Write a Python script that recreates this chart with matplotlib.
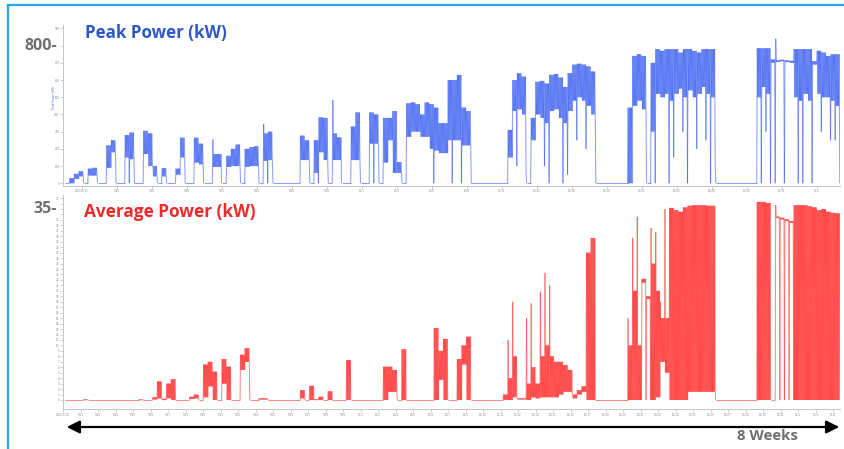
import numpy as np
import matplotlib
matplotlib.use("Agg")
import matplotlib.pyplot as plt
from matplotlib.patches import FancyArrowPatch
from matplotlib.lines import Line2D
from matplotlib.collections import LineCollection

# ---------------- data (8-hour bins over 8 weeks) -------------
BIN_DAYS = 1.0 / 3.0

# Peak power (kW): upper edge / lower edge of the dense trace inside each bin
PEAK_HI = [0, 30, 55, 70, 0, 85, 90, 0, 0, 220, 250, 0,
           0, 280, 295, 0, 0, 305, 290, 100, 0, 88, 0, 0,
           85, 265, 0, 0, 265, 230, 0, 0, 170, 170, 0, 160,
           200, 225, 0, 200, 210, 215, 0, 290, 300, 0, 0, 0,
           0, 0, 0, 277, 250, 0, 250, 383, 380, 0, 290, 267,
           0, 0, 330, 412, 0, 0, 412, 400, 0, 380, 380, 420,
           123, 0, 465, 470, 460, 400, 470, 460, 440, 350, 350, 600,
           600, 630, 440, 420, 0, 0, 0, 0, 0, 0, 0, 0,
           310, 600, 640, 620, 0, 380, 590, 595, 580, 630, 635, 615,
           560, 640, 690, 695, 690, 680, 650, 0, 0, 0, 0, 0,
           0, 0, 440, 740, 750, 740, 0, 700, 780, 770, 780, 780,
           780, 760, 780, 780, 770, 760, 780, 780, 780, 0, 0, 0,
           0, 0, 0, 0, 0, 0, 785, 785, 785, 720, 715, 718,
           715, 712, 780, 780, 780, 780, 710, 770, 760, 740, 750, 750]
PEAK_LO = [0, 0, 25, 40, 0, 45, 45, 0, 0, 90, 180, 0,
           0, 150, 140, 0, 0, 170, 100, 40, 0, 40, 0, 0,
           50, 150, 0, 0, 120, 110, 0, 0, 95, 95, 0, 95,
           100, 100, 0, 95, 100, 100, 0, 130, 135, 0, 0, 0,
           0, 0, 0, 135, 135, 0, 60, 180, 135, 0, 135, 135,
           0, 0, 135, 135, 0, 0, 230, 230, 0, 120, 250, 60,
           60, 0, 270, 300, 300, 270, 270, 200, 190, 175, 175, 250,
           250, 250, 220, 220, 0, 0, 0, 0, 0, 0, 0, 0,
           150, 420, 430, 400, 0, 250, 400, 380, 350, 420, 430, 380,
           350, 420, 480, 500, 480, 450, 400, 0, 0, 0, 0, 0,
           0, 0, 0, 450, 480, 430, 0, 300, 520, 500, 520, 480,
           520, 550, 500, 540, 500, 520, 560, 520, 500, 0, 0, 0,
           0, 0, 0, 0, 0, 0, 500, 560, 520, 700, 705, 710,
           705, 700, 500, 480, 520, 480, 690, 520, 500, 500, 480, 450]
# (bin, value) : single deep strokes of the peak trace
PEAK_DIPS = [(13, 0), (33, 0), (43, 0), (54, 0), (59, 0), (66, 0), (79, 0), (83, 0),
             (85, 0), (97, 100), (99, 60), (103, 100), (104, 0), (107, 0), (108, 50),
             (110, 250), (112, 200), (127, 0), (130, 0), (131, 150), (133, 300),
             (134, 0), (136, 200), (138, 250), (139, 0), (140, 100), (150, 0),
             (151, 300), (152, 0), (153, 0), (155, 0), (158, 0), (159, 0), (161, 0),
             (163, 300), (165, 250), (166, 250), (167, 0)]
# (bin, value) : single tall strokes of the peak trace
PEAK_SPIKES = [(32, 255), (43, 345), (58, 483), (154, 840)]

# Average power (kW)
AVG_HI = [0, 0, 0, 0, 0.1, 0, 0, 0, 0, 0, 0, 0,
          0, 0, 0, 0, 0.1, 0, 0, 0.5, 3.4, 0.2, 3.0, 3.8,
          0, 0, 0, 0.6, 1.0, 0, 6.5, 7.0, 5.2, 0, 7.5, 6.1,
          0, 0, 8.3, 9.5, 0, 0, 0.3, 0.3, 0, 0, 0, 0,
          0, 0, 0, 1.8, 0, 2.6, 0.1, 0.6, 0, 1.6, 0, 0,
          0, 7.3, 0, 0, 0, 0, 0, 0, 0, 6.1, 6.1, 5.5,
          0, 9.3, 0, 0, 0, 0, 0, 0, 13.2, 9.0, 11.2, 0,
          0, 7.5, 10.0, 11.6, 0, 0, 0, 0, 0, 0, 0, 1.0,
          4.0, 8.0, 0.3, 0.3, 3.0, 6.0, 3.0, 8.0, 10.0, 8.0, 7.0, 7.0,
          6.4, 5.5, 1.0, 1.8, 2.5, 27.0, 29.7, 0, 0, 0, 0, 0,
          0, 0, 10.0, 20.0, 10.0, 22.2, 19.0, 25.0, 20.0, 15.0, 15.0, 35.2,
          34.8, 34.5, 35.3, 35.6, 35.7, 35.7, 35.7, 35.6, 35.6, 0, 0, 0,
          0, 0, 0, 0, 0, 0, 36.3, 36.3, 36.1, 0, 33.6, 33.4,
          33.1, 32.8, 35.7, 35.7, 35.7, 35.5, 35.3, 34.8, 35.0, 34.5, 34.3, 34.2]
AVG_LO = [0, 0, 0, 0, 0, 0, 0, 0, 0, 0, 0, 0,
          0, 0, 0, 0, 0, 0, 0, 0.1, 0.3, 0, 0.3, 0,
          0, 0, 0, 0.2, 0.3, 0, 0.5, 2.5, 0, 0, 3.0, 0,
          0, 0, 5.5, 7.0, 0, 0, 0.1, 0.1, 0, 0, 0, 0,
          0, 0, 0, 0.3, 0, 0, 0, 0, 0, 0, 0, 0,
          0, 0, 0, 0, 0, 0, 0, 0, 0, 0, 1.5, 1.5,
          0, 0, 0, 0, 0, 0, 0, 0, 0, 3.7, 0, 0,
          0, 0, 6.5, 0, 0, 0, 0, 0, 0, 0, 0, 0,
          0, 0.5, 0.1, 0.1, 0, 0.5, 0.3, 0.5, 0.5, 0.5, 0.5, 1.0,
          1.5, 1.5, 0.3, 1.0, 1.5, 0, 0, 0, 0, 0, 0, 0,
          0, 0, 0, 0, 0, 21.5, 18.5, 0, 0.5, 7.0, 5.0, 0,
          0, 0, 0, 1.5, 1.5, 1.5, 1.5, 1.5, 1.5, 0, 0, 0,
          0, 0, 0, 0, 0, 0, 0, 0, 0, 0, 33.4, 33.1,
          32.8, 32.5, 0, 0, 0, 0, 0, 0, 0, 0, 0, 0]
AVG_DIPS = [(125, 0), (126, 0), (154, 0), (155, 0), (156, 0), (157, 0)]
AVG_SPIKES = [(96, 11.0), (97, 18.0), (100, 15.0), (101, 17.7), (103, 19.8),
              (104, 23.3), (105, 21.0), (122, 15.0), (123, 29.7), (124, 33.6),
              (127, 31.5), (128, 30.8), (129, 18.0), (130, 35.0), (154, 35.7)]

PEAK_YTICKS = [0, 100, 200, 300, 400, 500, 600, 700, 800, 900]
AVG_YTICKS = list(range(0, 38))
TOP_XLABELS = ["2021/9/11", "9/13", "9/16", "9/18", "9/21", "9/23", "9/26", "9/28",
               "10/1", "10/3", "10/6", "10/8", "10/11", "10/13", "10/16", "10/18",
               "10/21", "10/23", "10/26", "10/28", "10/31", "11/2"]
BOTTOM_XLABELS = ["2021/9/10", "9/11", "9/12", "9/14", "9/15", "9/16", "9/17", "9/19",
                  "9/20", "9/21", "9/22", "9/24", "9/25", "9/26", "9/27", "9/29",
                  "9/30", "10/1", "10/2", "10/4", "10/5", "10/6", "10/7", "10/9",
                  "10/10", "10/11", "10/12", "10/14", "10/15", "10/16", "10/17", "10/19",
                  "10/20", "10/21", "10/22", "10/24", "10/25", "10/26", "10/27", "10/29",
                  "10/30", "10/31", "11/1", "11/3", "11/4"]

BLUE = "#1a44f0"
RED = "#ff1a1a"
GRAY = "#6f6f6f"
FONT = ["Open Sans", "DejaVu Sans"]

W, H = 845, 449


def trace_segments(hi, lo, dips, spikes, strokes):
    """Zig-zag path: in every bin the trace swings `strokes` times between hi and lo;
    a spike replaces the first top of its bin, a dip the last bottom."""
    hi = np.asarray(hi, float)
    lo = np.asarray(lo, float)
    first = hi.copy()
    last = lo.copy()
    for b, v in dips:
        last[b] = v
    for b, v in spikes:
        first[b] = v
    start = np.arange(len(hi)) * BIN_DAYS
    cols_x, cols_y = [], []
    for j in range(strokes):
        cols_x.append(start + (j + 0.25) / strokes * BIN_DAYS)
        cols_y.append(first if j == 0 else hi)
        cols_x.append(start + (j + 0.75) / strokes * BIN_DAYS)
        cols_y.append(last if j == strokes - 1 else lo)
    xs = np.stack(cols_x, axis=1).ravel()
    ys = np.stack(cols_y, axis=1).ravel()
    pts = np.column_stack([xs, ys])
    segs = np.stack([pts[:-1], pts[1:]], axis=1)
    # merge flat runs on the baseline into one segment each so they do not darken
    flat = (segs[:, 0, 1] == 0) & (segs[:, 1, 1] == 0)
    out = []
    i = 0
    n = len(segs)
    while i < n:
        if flat[i]:
            j = i
            while j + 1 < n and flat[j + 1]:
                j += 1
            out.append([segs[i, 0], segs[j, 1]])
            i = j + 1
        else:
            out.append(segs[i])
            i += 1
    return out


def style_axis(ax, yticks, ylabels, xticks, xlabels, ylim):
    for s in ("top", "right"):
        ax.spines[s].set_visible(False)
    for s in ("left", "bottom"):
        ax.spines[s].set_color("#c4c4c4")
        ax.spines[s].set_linewidth(0.7)
    ax.set_xlim(-2 / 13.84, 775 / 13.84)
    ax.set_ylim(*ylim)
    ax.set_yticks(yticks)
    ax.set_yticklabels(ylabels)
    ax.set_xticks(xticks)
    ax.set_xticklabels(xlabels)
    ax.tick_params(axis="both", length=2, width=0.4, color="#aaaaaa",
                   labelsize=2.0, labelcolor="#8a8a8a", pad=0.6)
    ax.set_facecolor("white")


fig = plt.figure(figsize=(W / 100, H / 100), dpi=100)
fig.patch.set_facecolor("white")

ax1 = fig.add_axes([63 / W, 1 - 185.5 / H, 777 / W, (185.5 - 25) / H])
ax2 = fig.add_axes([63 / W, 1 - 409 / H, 777 / W, (409 - 195) / H])

top_ticks = [(82 + 35 * k - 65) / 13.84 for k in range(len(TOP_XLABELS))]
bot_ticks = [(63 + 17.5 * k - 65) / 13.84 for k in range(len(BOTTOM_XLABELS))]

# peak panel
segs = trace_segments(PEAK_HI, PEAK_LO, PEAK_DIPS, PEAK_SPIKES, 4)
ax1.add_collection(LineCollection(segs, colors=BLUE, linewidths=0.75, alpha=0.5,
                                  capstyle="butt"))
peak_labels = ["" if v == 800 else str(v) for v in PEAK_YTICKS]
style_axis(ax1, PEAK_YTICKS, peak_labels, top_ticks, TOP_XLABELS, (-13, 920))

# average panel
segs = trace_segments(AVG_HI, AVG_LO, AVG_DIPS, AVG_SPIKES, 5)
ax2.add_collection(LineCollection(segs, colors=RED, linewidths=0.75, alpha=0.5,
                                  capstyle="butt"))
avg_labels = ["" if v in (34, 35, 36) else str(v) for v in AVG_YTICKS]
style_axis(ax2, AVG_YTICKS, avg_labels, bot_ticks, BOTTOM_XLABELS, (-1.65, 37.57))

# tiny rotated axis caption in the peak panel
fig.text(54 / W, 1 - 97 / H, "Peak Power (kW)", rotation=90, fontsize=2.0,
         color="#4a6ae0", ha="center", va="center")

# big labels
fig.text(57 / W, 1 - 45.7 / H, "800-", fontsize=11.5, fontweight="bold",
         color=GRAY, ha="right", va="center", family=FONT)
fig.text(57 / W, 1 - 209 / H, "35-", fontsize=11.5, fontweight="bold",
         color=GRAY, ha="right", va="center", family=FONT)
fig.text(85 / W, 1 - 33 / H, "Peak Power (kW)", fontsize=12.2, fontweight="bold",
         color="#2a58c8", ha="left", va="center", family=FONT)
fig.text(84 / W, 1 - 212 / H, "Average Power (kW)", fontsize=12.4, fontweight="bold",
         color="#f02a2a", ha="left", va="center", family=FONT)
fig.text(768 / W, 1 - 436.5 / H, "8 Weeks", fontsize=10.8, fontweight="bold",
         color=GRAY, ha="center", va="center", family=FONT)

# double-headed arrow
arrow = FancyArrowPatch((64 / W, 1 - 427 / H), (842 / W, 1 - 427 / H),
                        transform=fig.transFigure,
                        arrowstyle="<|-|>,head_length=0.7,head_width=0.35",
                        mutation_scale=11, lw=1.6, color="black")
fig.add_artist(arrow)

# frame of the screenshot
frame_col = "#2aa6e6"
fig.add_artist(Line2D([8 / W, 1.01], [1 - 5 / H, 1 - 5 / H], transform=fig.transFigure,
                      color=frame_col, lw=1.6))
fig.add_artist(Line2D([8 / W, 8 / W], [1 - 5 / H, -0.01], transform=fig.transFigure,
                      color=frame_col, lw=1.6))

fig.savefig("out.png", dpi=100)
